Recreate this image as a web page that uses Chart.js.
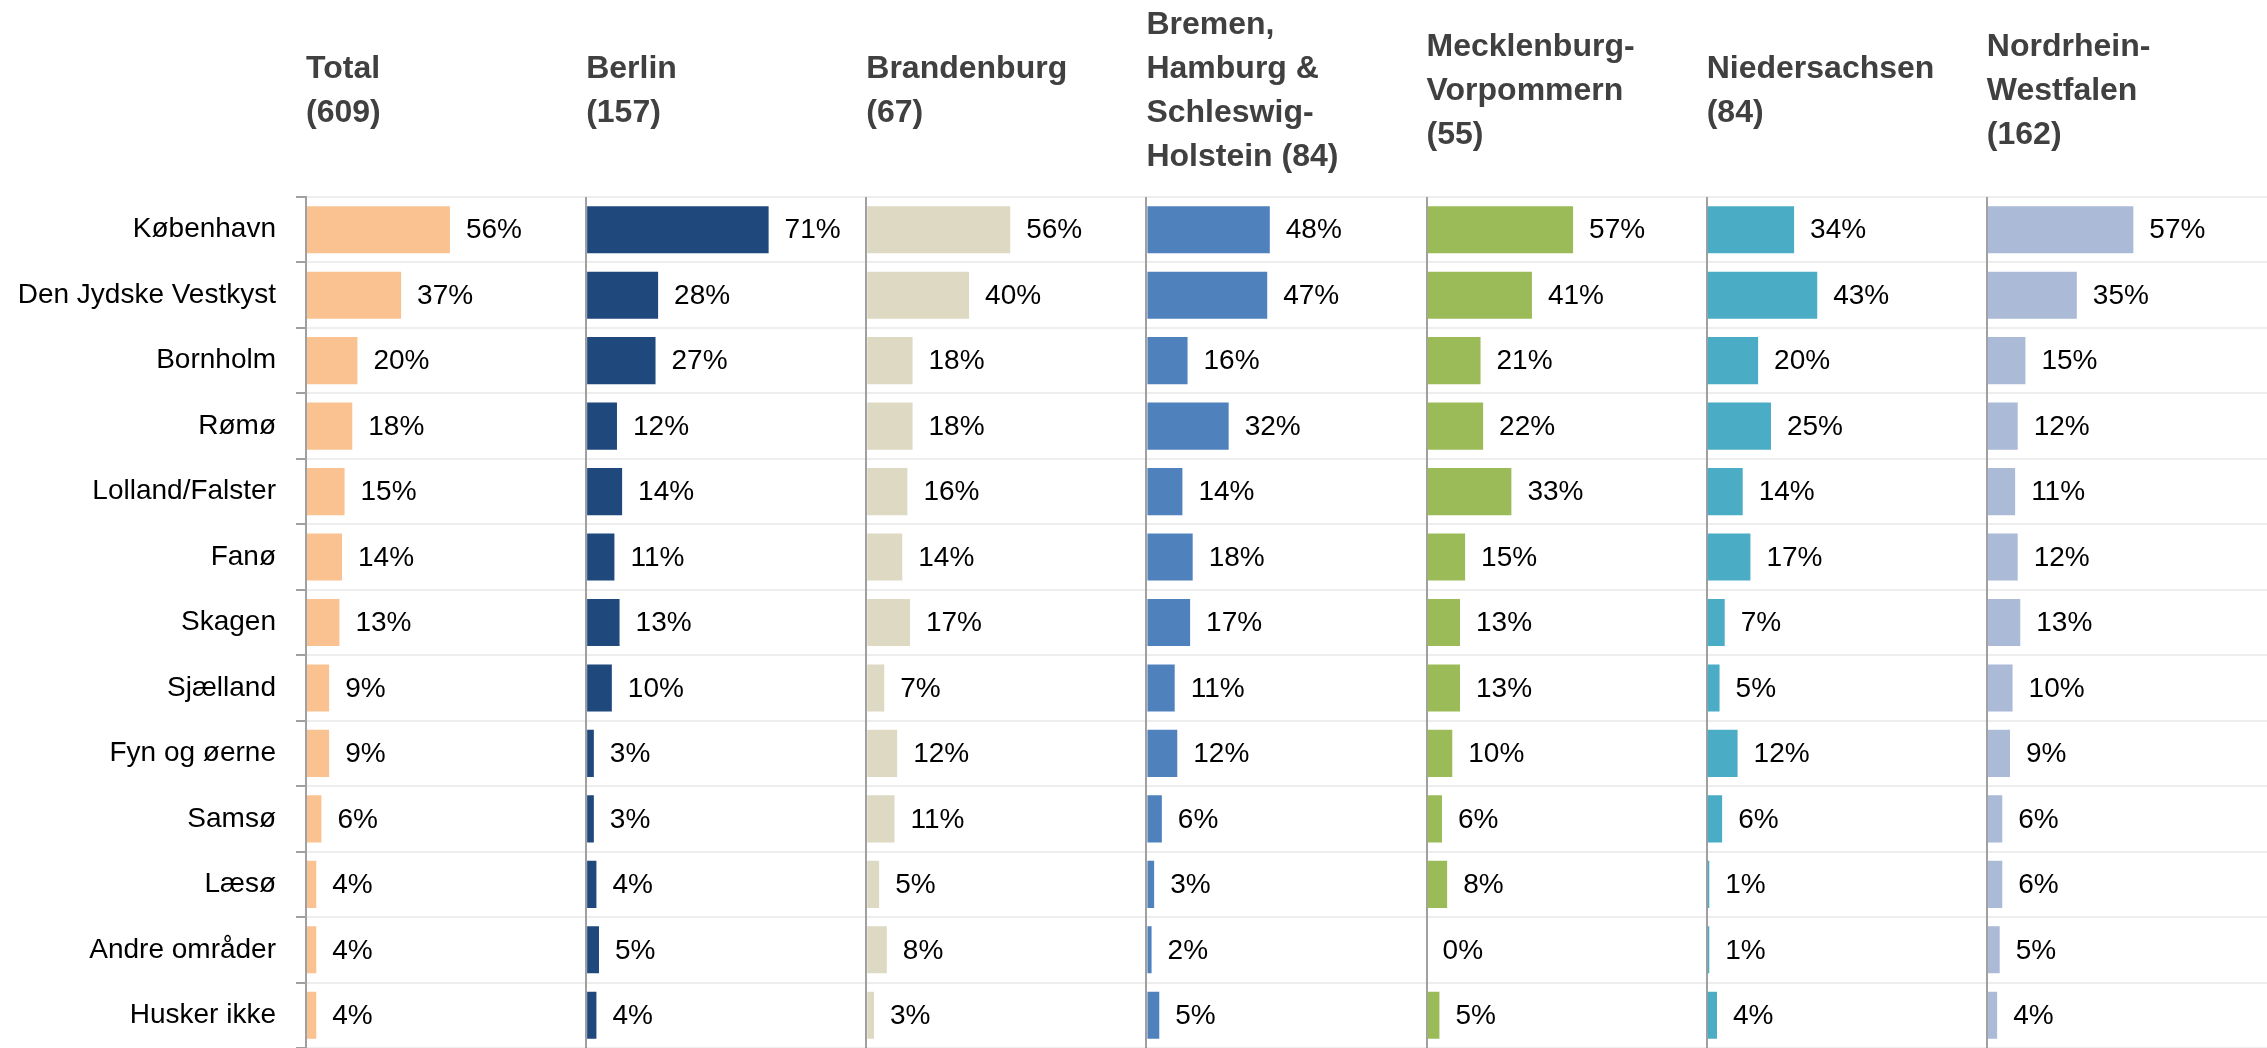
<!DOCTYPE html>
<html>
<head>
<meta charset="utf-8">
<script src="https://cdn.jsdelivr.net/npm/chart.js@4.4.4/dist/chart.umd.min.js"></script>
<style>
  html, body { margin: 0; padding: 0; background: #fff; }
  #wrap { width: 2267px; height: 1048px; }
</style>
</head>
<body>
<div id="wrap"><canvas id="chart" width="2267" height="1048"></canvas></div>
<script>
/* ── Data ─────────────────────────────────────────────────────────── */
const categories = ["København", "Den Jydske Vestkyst", "Bornholm", "Rømø", "Lolland/Falster", "Fanø",
  "Skagen", "Sjælland", "Fyn og øerne", "Samsø", "Læsø", "Andre områder", "Husker ikke"];

const titleTotal  = ["Total", "(609)"];
const titleBerlin = ["Berlin", "(157)"];
const titleBrand  = ["Brandenburg", "(67)"];
const titleBremen = ["Bremen,", "Hamburg &", "Schleswig-", "Holstein (84)"];
const titleMeck   = ["Mecklenburg-", "Vorpommern", "(55)"];
const titleNieder = ["Niedersachsen", "(84)"];
const titleNrw    = ["Nordrhein-", "Westfalen", "(162)"];

const total  = [56, 37, 20, 18, 15, 14, 13, 9, 9, 6, 4, 4, 4];
const berlin = [71, 28, 27, 12, 14, 11, 13, 10, 3, 3, 4, 5, 4];
const brand  = [56, 40, 18, 18, 16, 14, 17, 7, 12, 11, 5, 8, 3];
const bremen = [48, 47, 16, 32, 14, 18, 17, 11, 12, 6, 3, 2, 5];
const meck   = [57, 41, 21, 22, 33, 15, 13, 13, 10, 6, 8, 0, 5];
const nieder = [34, 43, 20, 25, 14, 17, 7, 5, 12, 6, 1, 1, 4];
const nrw    = [57, 35, 15, 12, 11, 12, 13, 10, 9, 6, 6, 5, 4];

/* ── Styling ──────────────────────────────────────────────────────── */
const FONT = "'Liberation Sans', Arial, sans-serif";
const AXIS_GREY = "#a0a0a0";

const panels = [
  { title: titleTotal,  data: total,  color: "#FAC191" },
  { title: titleBerlin, data: berlin, color: "#1F497D" },
  { title: titleBrand,  data: brand,  color: "#DDD9C3" },
  { title: titleBremen, data: bremen, color: "#4F81BD" },
  { title: titleMeck,   data: meck,   color: "#9BBB59" },
  { title: titleNieder, data: nieder, color: "#4BACC6" },
  { title: titleNrw,    data: nrw,    color: "#AABAD7" }
];

const datasets = panels.map((p, i) => ({
  data: p.data,
  backgroundColor: p.color,
  xAxisID: "x" + i,
  yAxisID: "y",
  grouped: false,
  barPercentage: 0.72,
  categoryPercentage: 1
}));

const scales = {
  y: {
    type: "category",
    afterFit: s => { s.width = 306; s.paddingTop = 0; s.paddingBottom = 0; },
    grid: { color: "#eeeeee", lineWidth: 2, tickColor: AXIS_GREY, tickLength: 10 },
    border: { color: AXIS_GREY, width: 2 },
    ticks: { font: { family: FONT, size: 28 }, color: "#000", padding: 20 }
  }
};
panels.forEach((p, i) => {
  scales["x" + i] = {
    type: "linear",
    position: "top",
    stack: "panels",
    stackWeight: 1,
    weight: 10 - i,
    min: 0,
    max: 109,
    afterFit: s => { s.height = 197; },
    ticks: { display: false },
    border: { display: false },
    grid: {
      drawTicks: false,
      lineWidth: 2,
      color: c => (c.tick && c.tick.value === 0 && i > 0) ? AXIS_GREY : "rgba(0,0,0,0)"
    },
    title: {
      display: true,
      text: p.title,
      align: "start",
      color: "#404040",
      font: { family: FONT, size: 32, weight: "bold", lineHeight: 1.38 },
      padding: { top: 69 - 22 * (p.title.length - 1), bottom: 0 }
    }
  };
});

/* ── Value labels ─────────────────────────────────────────────────── */
const valueLabels = {
  id: "valueLabels",
  afterDatasetsDraw(chart) {
    const ctx = chart.ctx;
    ctx.save();
    ctx.font = "28px " + FONT;
    ctx.fillStyle = "#000";
    ctx.textAlign = "left";
    ctx.textBaseline = "middle";
    chart.data.datasets.forEach((ds, di) => {
      chart.getDatasetMeta(di).data.forEach((bar, j) => {
        ctx.fillText(ds.data[j] + "%", bar.x + 16, bar.y + 1);
      });
    });
    ctx.restore();
  }
};

new Chart(document.getElementById("chart"), {
  type: "bar",
  data: { labels: categories, datasets },
  options: {
    indexAxis: "y",
    responsive: false,
    animation: false,
    devicePixelRatio: 1,
    layout: { padding: 0 },
    plugins: { legend: { display: false }, tooltip: { enabled: false } },
    scales
  },
  plugins: [valueLabels]
});
</script>
</body>
</html>
